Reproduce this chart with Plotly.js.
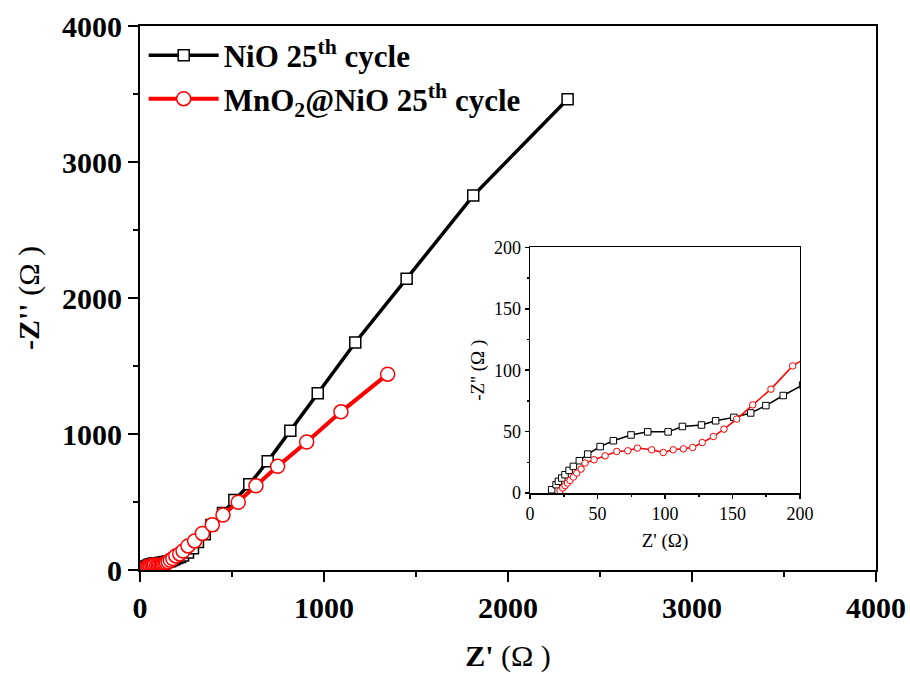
<!DOCTYPE html>
<html>
<head>
<meta charset="utf-8">
<script src="https://cdn.plot.ly/plotly-3.0.1.min.js"></script>
<style>html,body{margin:0;padding:0;background:#fff;}#chart{width:910px;height:674px;}</style>
</head>
<body>
<div id="chart"></div>
<script>
// NiO 25th cycle (Z', -Z'')
const nioX = [16, 19.3, 21, 23.5, 25.9, 28.9, 32.1, 36.5, 42.7, 51.9, 61.7, 74.8, 87.2, 102.3, 112.9, 127, 137.5, 151, 163.5, 174.7, 187.6, 202, 218, 234, 261, 288, 315, 352, 388, 451, 513, 594, 694, 817, 966, 1170, 1449, 1811, 2324];
const nioY = [2.7, 6.8, 9.5, 12.2, 14.9, 18.4, 21.7, 26.3, 31.7, 37.8, 42.6, 47.3, 49.8, 49.8, 54.2, 55.4, 58.8, 61.6, 65.2, 71.2, 79.4, 88, 96, 106, 128, 160, 205, 262, 330, 420, 515, 630, 799, 1023, 1299, 1673, 2142, 2753, 3462];
// MnO2@NiO 25th cycle
const mnoX = [22.2, 24.2, 25.9, 27.7, 29.6, 32.1, 34.6, 37.8, 40.7, 47.4, 55.6, 64.2, 72.4, 79.5, 90.1, 98.7, 106.1, 113.6, 120.5, 127.6, 135.8, 143.7, 153.1, 165, 178.5, 194.6, 216, 234, 261, 297, 339, 393, 451, 534, 630, 748, 906, 1092, 1346];
const mnoY = [1.9, 4.1, 6, 8.1, 10.3, 13, 16.3, 19.5, 24.4, 27.1, 30.3, 33.8, 34.4, 36.6, 35.2, 33.0, 35.2, 36.0, 37.1, 41.1, 46.0, 52.0, 60.2, 71.8, 84.6, 103.5, 118, 140, 177, 214, 269, 333, 404, 498, 619, 762, 941, 1163, 1440];
const seriesNames = ["NiO 25<sup>th</sup> cycle", "MnO<sub>2</sub>@NiO 25<sup>th</sup> cycle"];

const serif = "Liberation Serif, Times New Roman, serif";

const traces = [
  {x: nioX, y: nioY, name: seriesNames[0], mode: 'lines+markers', xaxis: 'x', yaxis: 'y',
   line: {color: 'black', width: 3.5},
   marker: {symbol: 'square', size: 11, color: 'white', line: {color: 'black', width: 1.5}}},
  {x: mnoX, y: mnoY, name: seriesNames[1], mode: 'lines+markers', xaxis: 'x', yaxis: 'y',
   line: {color: 'red', width: 4},
   marker: {symbol: 'circle', size: 14, color: 'white', line: {color: 'red', width: 1.5}}},
  {x: nioX, y: nioY, name: seriesNames[0], mode: 'lines+markers', xaxis: 'x2', yaxis: 'y2', showlegend: false,
   line: {color: 'black', width: 1.5},
   marker: {symbol: 'square', size: 6.5, color: 'white', line: {color: 'black', width: 1}}},
  {x: mnoX, y: mnoY, name: seriesNames[1], mode: 'lines+markers', xaxis: 'x2', yaxis: 'y2', showlegend: false,
   line: {color: 'red', width: 1.5},
   marker: {symbol: 'circle', size: 6.5, color: 'white', line: {color: 'red', width: 1}}}
];

const mainAxis = {
  range: [0, 4000], tick0: 0, dtick: 1000, ticks: 'outside', ticklen: 10, tickwidth: 2, tickcolor: 'black',
  minor: {dtick: 500, ticks: 'outside', ticklen: 5, tickwidth: 2, tickcolor: 'black'},
  showline: true, linewidth: 2, linecolor: 'black', mirror: true, showgrid: false, zeroline: false,
  tickfont: {family: serif, size: 30, weight: 'bold', color: 'black'}
};
const insetAxis = {
  range: [0, 200], tick0: 0, dtick: 50, ticks: 'outside', ticklen: 4, tickwidth: 1.5, tickcolor: 'black',
  minor: {dtick: 25, ticks: 'outside', ticklen: 2, tickwidth: 1.5, tickcolor: 'black'},
  showline: true, linewidth: 1.5, linecolor: 'black', mirror: true, showgrid: false, zeroline: false,
  tickfont: {family: serif, size: 18, color: 'black'}
};

const layout = {
  width: 910, height: 674,
  margin: {l: 140, r: 34, t: 26, b: 104},
  paper_bgcolor: 'white', plot_bgcolor: 'white',
  font: {family: serif, color: 'black'},
  showlegend: true,
  legend: {x: 0.005, y: 0.995, xanchor: 'left', yanchor: 'top', bgcolor: 'rgba(0,0,0,0)',
           font: {family: serif, size: 31, weight: 'bold', color: 'black'}, itemwidth: 70, tracegroupgap: 0},
  xaxis: Object.assign({}, mainAxis, {anchor: 'y', title: {text: "<b>Z'</b> (Ω )", font: {family: serif, size: 30}, standoff: 22}}),
  yaxis: Object.assign({}, mainAxis, {anchor: 'x', title: {text: "<b>-Z''</b> (Ω )", font: {family: serif, size: 30}, standoff: 14}}),
  xaxis2: Object.assign({}, insetAxis, {domain: [0.530, 0.8967], anchor: 'y2', title: {text: "Z' (Ω)", font: {family: serif, size: 19}, standoff: 10}}),
  yaxis2: Object.assign({}, insetAxis, {domain: [0.1415, 0.593], anchor: 'x2', title: {text: "-Z'' (Ω )", font: {family: serif, size: 19}, standoff: 4}})
};

Plotly.newPlot('chart', traces, layout, {displayModeBar: false, staticPlot: true});
</script>
</body>
</html>
